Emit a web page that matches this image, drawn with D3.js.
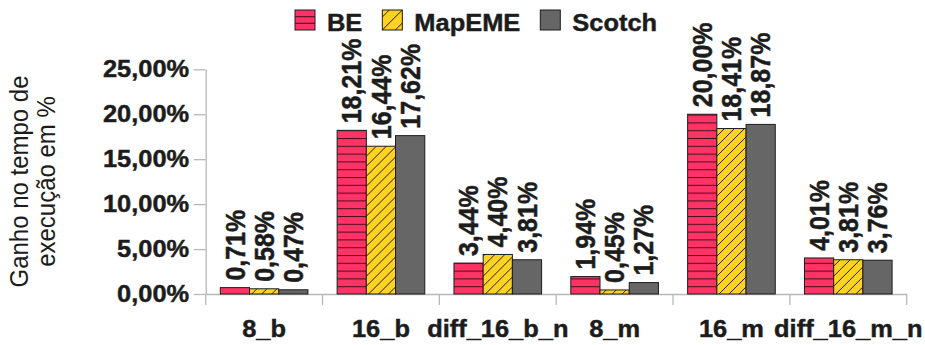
<!DOCTYPE html>
<html>
<head>
<meta charset="utf-8">
<script src="https://cdn.jsdelivr.net/npm/d3@7"></script>
<style>
  html, body { margin: 0; padding: 0; background: #fff; }
  svg { display: block; }
  text { font-family: "Liberation Sans", Arial, sans-serif; fill: #1c1c1c; }
  text.bold { font-weight: bold; stroke: #1c1c1c; stroke-width: 0.45px; }
</style>
</head>
<body>
<svg id="chart" width="925" height="345"></svg>
<script>
// Categories and per-method gains (% reduction in execution time)
const categories = ["8_b", "16_b", "diff_16_b_n", "8_m", "16_m", "diff_16_m_n"];
const seriesNames = ["BE", "MapEME", "Scotch"];
const beValues     = [0.71, 18.21, 3.44, 1.94, 20.00, 4.01];
const mapemeValues = [0.58, 16.44, 4.40, 0.45, 18.41, 3.81];
const scotchValues = [0.47, 17.62, 3.81, 1.27, 18.87, 3.76];
const yTicks = [0, 5, 10, 15, 20, 25];
const yTitleLines = ["Ganho no tempo de", "execução em %"];

const seriesValues = [beValues, mapemeValues, scotchValues];
const fills = ["url(#pat-be)", "url(#pat-mapeme)", "#666666"];

const ptBR = d3.formatLocale({ decimal: ",", thousands: ".", grouping: [3], currency: ["R$", ""] });
const fmt = v => ptBR.format(".2f")(v) + "%";

const SX = 1.06;   // horizontal glyph stretch of the labels
const svg = d3.select("#chart");

// Fill patterns
const defs = svg.append("defs");
const pBE = defs.append("pattern").attr("id", "pat-be")
  .attr("patternUnits", "userSpaceOnUse").attr("width", 10).attr("height", 7.8)
  .attr("y", 294);
pBE.append("rect").attr("width", 10).attr("height", 7.8).attr("fill", "#ff3366");
pBE.append("line").attr("x1", 0).attr("x2", 10).attr("y1", 0.5).attr("y2", 0.5)
  .attr("stroke", "#4a1020").attr("stroke-width", 1.1);

const pME = defs.append("pattern").attr("id", "pat-mapeme")
  .attr("patternUnits", "userSpaceOnUse").attr("width", 10).attr("height", 10);
pME.append("rect").attr("width", 10).attr("height", 10).attr("fill", "#ffd320");
pME.append("path").attr("d", "M-1,11 L11,-1 M-6,6 L6,-6 M4,16 L16,4")
  .attr("stroke", "#1c1c1c").attr("stroke-width", 1);

// Scales
const x = d3.scaleBand().domain(categories).range([205.7, 906.7]).padding(0);
const xs = d3.scaleBand().domain(seriesNames)
  .range([x.bandwidth() * 0.125, x.bandwidth() * 0.875]).padding(0);
const y = d3.scaleLinear().domain([0, 25]).range([294, 69.3]);

const axisColor = "#b8b8b8";

// Y axis
const gy = svg.append("g").attr("transform", "translate(205.7,0)")
  .call(d3.axisLeft(y).tickValues(yTicks).tickSize(12).tickSizeOuter(0)
    .tickFormat(fmt).tickPadding(4.5));
gy.attr("font-family", null);
gy.select(".domain").attr("stroke", axisColor).attr("stroke-width", 1.3);
gy.selectAll(".tick line").attr("stroke", axisColor).attr("stroke-width", 1.3);
gy.selectAll(".tick text").each(function () {
  const t = d3.select(this);
  const tx = +t.attr("x");
  t.attr("x", 0).attr("transform", `translate(${tx},0) scale(${SX},1)`)
    .attr("class", "bold").attr("font-size", 24).attr("fill", "#1c1c1c");
});

// X axis: baseline, boundary ticks and category labels
const gx = svg.append("g").attr("transform", "translate(0,294)")
  .call(d3.axisBottom(x).tickSize(0).tickSizeOuter(0).tickPadding(0));
gx.attr("font-family", null);
gx.select(".domain").attr("stroke", axisColor).attr("stroke-width", 1.3);
gx.selectAll(".tick text")
  .attr("y", null).attr("dy", null).attr("x", 0)
  .attr("class", "bold").attr("font-size", 24).attr("fill", "#1c1c1c")
  .attr("transform", `translate(0,42.5) scale(${SX},1)`);
const bounds = categories.map(c => x(c)).concat([x.range()[1]]);
gx.selectAll(".bound").data(bounds).join("line").attr("class", "bound")
  .attr("x1", d => d).attr("x2", d => d).attr("y1", 0).attr("y2", 11)
  .attr("stroke", axisColor).attr("stroke-width", 1.3);

// Bars
const groups = svg.append("g").selectAll("g").data(categories).join("g")
  .attr("transform", c => `translate(${x(c)},0)`);
const rows = (c, i) => seriesNames.map((s, k) => ({ s, k, v: seriesValues[k][i] }));
groups.selectAll("rect").data(rows).join("rect")
  .attr("x", d => xs(d.s)).attr("width", xs.bandwidth())
  .attr("y", d => y(d.v)).attr("height", d => y(0) - y(d.v))
  .attr("fill", d => fills[d.k]).attr("stroke", "#1c1c1c").attr("stroke-width", 1);

// Value labels, rotated above each bar
groups.selectAll("text.val").data(rows).join("text").attr("class", "val bold")
  .attr("transform", d => `translate(${xs(d.s) + xs.bandwidth() / 2 + 9.6},${y(d.v) - 7}) scale(1.1,1) rotate(-90)`)
  .attr("font-size", 25)
  .text(d => fmt(d.v));

// Y axis title
svg.append("g").selectAll("text").data(yTitleLines).join("text")
  .attr("transform", (d, i) => `translate(${28.3 + i * 27},181.5) scale(${SX},1) rotate(-90)`)
  .attr("text-anchor", "middle").attr("font-size", 24)
  .text(d => d);

// Legend
const legend = svg.append("g");
let lx = 295;
seriesNames.forEach((name, k) => {
  legend.append("rect").attr("x", lx).attr("y", 10).attr("width", 20).attr("height", 20)
    .attr("fill", k === 0 ? "#ff3366" : k === 1 ? "#ffd320" : "#666666")
    .attr("stroke", "#1c1c1c").attr("stroke-width", 1);
  if (k === 0) {
    [16.7, 23.3].forEach(ly => legend.append("line").attr("x1", lx).attr("x2", lx + 20)
      .attr("y1", ly).attr("y2", ly).attr("stroke", "#4a1020").attr("stroke-width", 1.1));
  } else if (k === 1) {
    legend.append("path")
      .attr("d", `M${lx},${17} L${lx + 7},${10} M${lx},${30} L${lx + 20},${10} M${lx + 13},${30} L${lx + 20},${23}`)
      .attr("stroke", "#1c1c1c").attr("stroke-width", 1);
  }
  const t = legend.append("text").attr("class", "bold")
    .attr("transform", `translate(${lx + 32},30.7) scale(${SX},1)`)
    .attr("font-size", 24).text(name);
  lx += 32 + t.node().getComputedTextLength() * SX + 20;
});
</script>
</body>
</html>
